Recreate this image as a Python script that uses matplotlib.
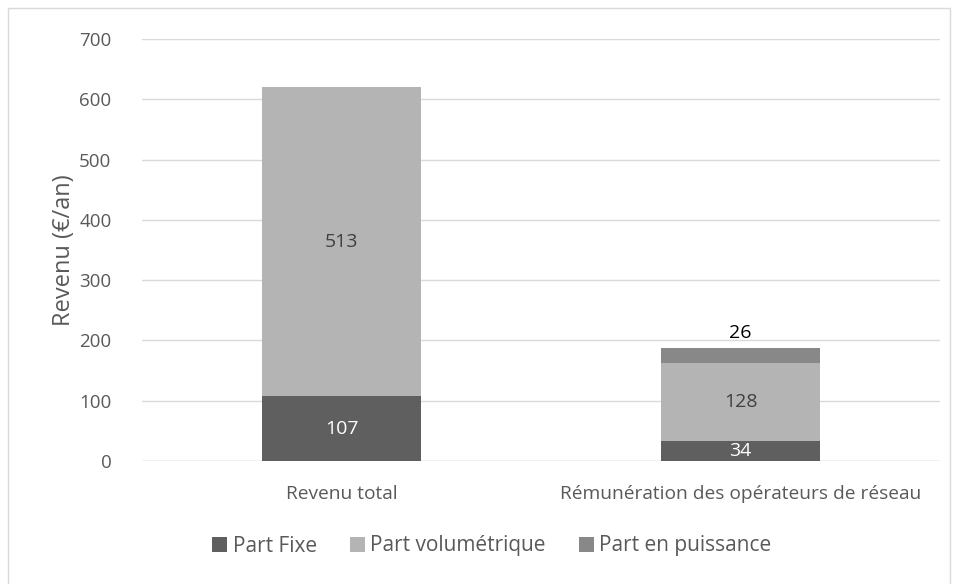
import matplotlib
matplotlib.use('Agg')
import matplotlib.pyplot as plt
import numpy as np
from matplotlib.patches import Rectangle

categories = ["Revenu total", "Rémunération des opérateurs de réseau"]
part_fixe = [107, 34]
part_volumetrique = [513, 128]
part_puissance = [0, 26]
series_names = ["Part Fixe", "Part volumétrique", "Part en puissance"]
yticks = [0, 100, 200, 300, 400, 500, 600, 700]

plt.rcParams['font.family'] = ['Open Sans', 'DejaVu Sans']
couleurs = ["#5f5f5f", "#b4b4b4", "#888888"]
gris_texte = "#595959"

fig = plt.figure(figsize=(9.58, 5.84), dpi=100)
# cadre du graphique (coupe en bas)
fig.patches.append(Rectangle((8 / 958, -20 / 584), 942 / 958, 596 / 584, transform=fig.transFigure,
                             fill=False, edgecolor="#d9d9d9", linewidth=1))
ax = fig.add_axes([142 / 958, 1 - 461 / 584, 798 / 958, 422 / 584])

x = np.arange(len(categories))
largeur = 0.4
b1 = ax.bar(x, part_fixe, largeur, color=couleurs[0], label=series_names[0], zorder=3)
b2 = ax.bar(x, part_volumetrique, largeur, bottom=part_fixe, color=couleurs[1], label=series_names[1], zorder=3)
bas3 = np.array(part_fixe) + np.array(part_volumetrique)
b3 = ax.bar(x, part_puissance, largeur, bottom=bas3, color=couleurs[2], label=series_names[2], zorder=3)

# etiquettes
for i in range(len(categories)):
    ax.text(x[i], part_fixe[i] / 2, str(part_fixe[i]), ha='center', va='center', color='white', fontsize=14, zorder=4)
    ax.text(x[i], part_fixe[i] + part_volumetrique[i] / 2, str(part_volumetrique[i]), ha='center', va='center',
            color="#404040", fontsize=14, zorder=4)
    if part_puissance[i] > 0:
        ax.text(x[i], bas3[i] + part_puissance[i] + 10, str(part_puissance[i]), ha='center', va='bottom',
                color='black', fontsize=14, zorder=4)

ax.set_xlim(-0.5, 1.5)
ax.set_ylim(0, 700)
ax.set_yticks(yticks)
ax.set_xticks(x)
ax.set_xticklabels(categories)
ax.tick_params(axis='both', length=0, labelsize=13.5, colors=gris_texte)
ax.tick_params(axis='x', labelsize=13.8, pad=17)
ax.tick_params(axis='y', pad=22)
ax.grid(axis='y', color="#d9d9d9", linewidth=1, zorder=0)
for s in ax.spines.values():
    s.set_visible(False)
ax.axhline(0, color="#d9d9d9", linewidth=1, zorder=1)
ax.set_ylabel("Revenu (€/an)", fontsize=17, color=gris_texte, labelpad=2)

leg = fig.legend(handles=[b1, b2, b3], loc='center', bbox_to_anchor=(492 / 958, 1 - 546 / 584), ncol=3,
                 frameon=False, fontsize=15, handlelength=0.72, handleheight=0.72, handletextpad=0.25,
                 columnspacing=1.6, borderpad=0, borderaxespad=0)
for t in leg.get_texts():
    t.set_color(gris_texte)

plt.savefig("out.png", dpi=100)
plt.close()
